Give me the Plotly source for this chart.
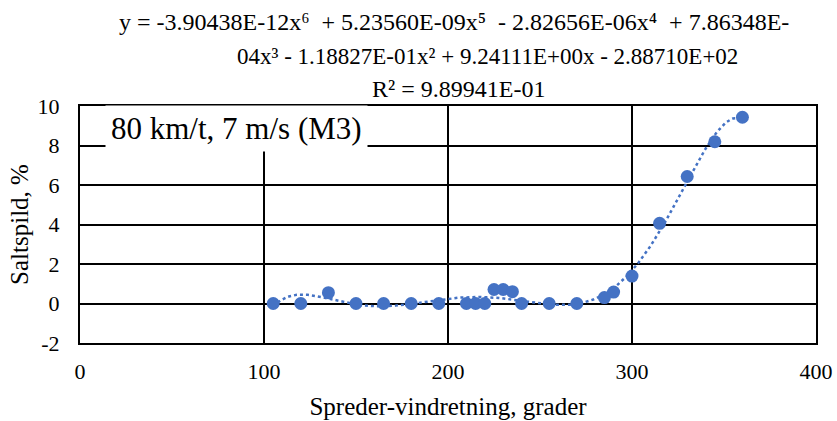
import numpy as np
import plotly.graph_objects as go

# Data
direction = [105, 120, 135, 150, 165, 180, 195, 210, 215, 220, 225, 230, 235,
             240, 255, 270, 285, 290, 300, 315, 330, 345, 360]
saltspild = [0.0, 0.0, 0.55, 0.0, 0.0, 0.0, 0.0, 0.0, 0.0, 0.0, 0.71, 0.71, 0.6,
             0.0, 0.0, 0.0, 0.3, 0.58, 1.39, 4.06, 6.43, 8.19, 9.43]

x_ticks = [0, 100, 200, 300, 400]
x_ticklabels = ["0", "100", "200", "300", "400"]
y_ticks = [-2, 0, 2, 4, 6, 8, 10]
y_ticklabels = ["-2", "0", "2", "4", "6", "8", "10"]

NB = "\u00a0"
title_lines = [
    f"y = -3.90438E-12x⁶{NB} + 5.23560E-09x⁵{NB} - 2.82656E-06x⁴{NB} + 7.86348E-",
    f"04x³ - 1.18827E-01x² + 9.24111E+00x - 2.88710E+02",
    "R² = 9.89941E-01",
]
label_text = "80 km/t, 7 m/s (M3)"
x_title = "Spreder-vindretning, grader"
y_title = "Saltspild, %"

# 6th-order polynomial trendline (as in the spreadsheet)
poly = np.polynomial.Polynomial.fit(direction, saltspild, 6)
xt = np.linspace(min(direction), max(direction), 300)
yt = poly(xt)

blue = "#4472C4"
serif = "Liberation Serif"

fig = go.Figure()
fig.add_trace(go.Scatter(x=xt, y=yt, mode="lines",
                         line=dict(color=blue, width=2.5, dash="dot"),
                         hoverinfo="skip", showlegend=False))
fig.add_trace(go.Scatter(x=direction, y=saltspild, mode="markers",
                         marker=dict(color=blue, size=13),
                         showlegend=False))

# plot area: 736 x 237 px
title_x = [0.508, 0.553, 0.514]
title_y = [1.355, 1.207, 1.072]
title_sizes = [24, 23, 24]
annotations = [dict(text=t, xref="paper", yref="paper", x=xx, y=yy,
                    xanchor="center", yanchor="middle", showarrow=False,
                    font=dict(family=serif, size=s, color="black"))
               for t, xx, yy, s in zip(title_lines, title_x, title_y, title_sizes)]
annotations.append(dict(text=label_text, xref="paper", yref="paper",
                        x=0.213, y=0.905, xanchor="center", yanchor="middle",
                        showarrow=False, bgcolor="white", borderpad=5,
                        font=dict(family=serif, size=31, color="black")))

fig.update_layout(
    width=837, height=421,
    margin=dict(l=80, r=21, t=106, b=78),
    paper_bgcolor="white", plot_bgcolor="white",
    font=dict(family=serif, color="black", size=22),
    annotations=annotations,
)
fig.update_xaxes(range=[0, 400], tickvals=x_ticks, ticktext=x_ticklabels,
                 showgrid=True, gridcolor="black", automargin=False,
                 ticklabeloverflow="allow",
                 gridwidth=2, showline=True, linecolor="black", linewidth=2,
                 mirror=True, zeroline=False, ticks="outside", ticklen=8,
                 tickcolor="white",
                 title=dict(text=x_title, standoff=14,
                            font=dict(family=serif, size=25)),
                 tickfont=dict(family=serif, size=22))
fig.update_yaxes(range=[-2, 10], tickvals=y_ticks, ticktext=y_ticklabels,
                 showgrid=True, gridcolor="black", automargin=False,
                 gridwidth=2, showline=True, linecolor="black", linewidth=2,
                 mirror=True, zeroline=True, zerolinecolor="black",
                 zerolinewidth=2, ticks="outside", ticklen=14,
                 tickcolor="white",
                 title=dict(text=y_title, standoff=2,
                            font=dict(family=serif, size=25)),
                 tickfont=dict(family=serif, size=22))

fig.write_html("out.html",
               config={"displayModeBar": False},
               post_script="document.body.style.margin='0';"
                           "document.body.style.overflow='hidden';")
